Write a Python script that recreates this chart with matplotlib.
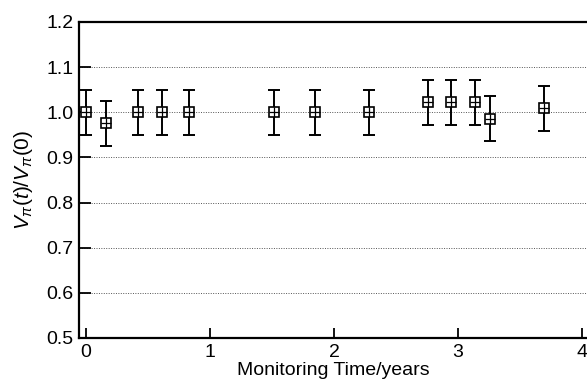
import numpy as np
import matplotlib.pyplot as plt

plt.rcParams['font.family'] = ['Liberation Sans', 'DejaVu Sans']
plt.rcParams['mathtext.fontset'] = 'custom'
plt.rcParams['mathtext.rm'] = 'Liberation Sans'
plt.rcParams['mathtext.it'] = 'Liberation Sans:italic'

# monitoring time (years) and normalised V_pi
years = [0.0, 0.16, 0.42, 0.61, 0.83, 1.52, 1.85, 2.28, 2.76, 2.94, 3.14, 3.26, 3.69]
ratio = [1.0, 0.976, 1.0, 1.0, 1.0, 1.0, 1.0, 1.0, 1.022, 1.022, 1.022, 0.986, 1.009]
err = [0.05] * 13

xticks = [0, 1, 2, 3, 4]
yticks = [0.5, 0.6, 0.7, 0.8, 0.9, 1.0, 1.1, 1.2]

fig = plt.figure(figsize=(5.87, 3.85), dpi=100)
ax = fig.add_axes([79 / 587, 47 / 385, 1 - 79 / 587, 316 / 385])

ax.errorbar(years, ratio, yerr=err, fmt='none', ecolor='black',
            elinewidth=1.4, capsize=4.5, capthick=1.4, zorder=3)
ax.plot(years, ratio, 's', ms=7, mfc='white', mec='black', mew=1.2, zorder=4)
ax.plot(years, ratio, '+', ms=6.5, mec='black', mew=0.9, zorder=5)

for y in yticks[1:-1]:
    ax.axhline(y, color='#555555', lw=0.7, ls=(0, (1, 1.5)), zorder=1)

ax.set_xlim(-0.056, 4.04)
ax.set_ylim(0.5, 1.2)
ax.set_xticks(xticks)
ax.set_yticks(yticks)
ax.set_yticklabels(['%.1f' % v for v in yticks])

ax.spines['right'].set_visible(False)
for s in ['left', 'top', 'bottom']:
    ax.spines[s].set_linewidth(1.6)

ax.tick_params(direction='in', length=8.5, width=1.3, labelsize=14, pad=4)
ax.tick_params(axis='x', length=7.5, pad=4)

ax.set_xlabel('Monitoring Time/years', fontsize=14, labelpad=1)
ax.set_ylabel(r'$V_\pi(t)/V_\pi(0)$', fontsize=15, labelpad=8)

plt.savefig('out.png', dpi=100)
